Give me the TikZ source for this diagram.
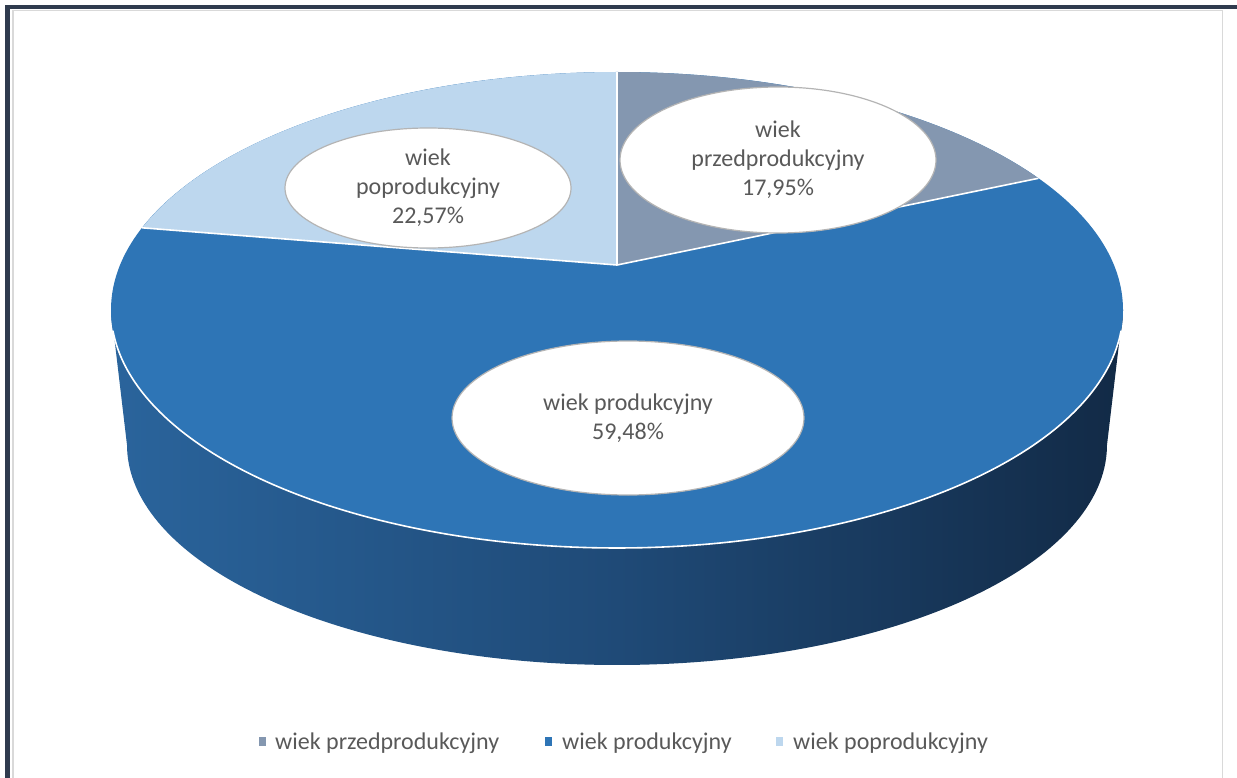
\documentclass[tikz,border=0pt]{standalone}
\usepackage{fontspec}
\setmainfont{Carlito}
\usetikzlibrary{shapes.geometric}
\definecolor{cBlue}{HTML}{2E75B6}
\definecolor{cGray}{HTML}{8497B0}
\definecolor{cLight}{HTML}{BDD7EE}
\definecolor{cText}{HTML}{595959}
\definecolor{cFrame}{HTML}{2F3B4E}
\definecolor{cBorder}{HTML}{D9D9D9}
\definecolor{lblEdge}{HTML}{B4B4B4}
\definecolor{sideL}{HTML}{2A649C}
\definecolor{sideM}{HTML}{1F4A77}
\definecolor{sideR}{HTML}{122A46}
\begin{document}
\begin{tikzpicture}[x=1pt,y=-1pt,
  lbl/.style={ellipse, fill=white, draw=lblEdge, line width=1.2pt, inner sep=0pt, text=cText, align=center, font=\fontsize{24}{29}\selectfont},
  sep/.style={draw=white, line width=1.6pt},
  leg/.style={text=cText, font=\fontsize{24}{29}\selectfont, anchor=base west, inner sep=0pt},
  legsq/.style={minimum width=7pt, minimum height=9pt, inner sep=0pt, draw=none}]
\useasboundingbox (0,0) rectangle (1237,778);
% frame
\fill[cFrame] (5,5) rectangle (1237,9.5);
\fill[cFrame] (5,5) rectangle (9.5,778);
\draw[cBorder, line width=1.5pt] (12.8,778) -- (12.8,10.3) -- (1222.5,10.3) -- (1222.5,778);
% side of the pie
\path[left color=sideL, right color=sideR, middle color=sideM]
  plot[domain=0:180,samples=150] ({617+506*cos(\x)},{310+238*sin(\x)})
  -- plot[domain=180:0,samples=150] ({617+490*cos(\x)},{445+220*sin(\x)}) -- cycle;
% top face
\fill[cBlue] (617,310) ellipse[x radius=506pt, y radius=238pt];
\coordinate (apex) at (617,265);
\coordinate (ptop) at (617,72);
\coordinate (pright) at (1038.4,178.3);
\coordinate (pleft) at (142.1,227.8);
\fill[cGray] (apex) -- plot[domain=270:326.4,samples=80] ({617+506*cos(\x)},{310+238*sin(\x)}) -- cycle;
\fill[cLight] (apex) -- plot[domain=200.2:270,samples=80] ({617+506*cos(\x)},{310+238*sin(\x)}) -- cycle;
\draw[sep] (ptop) -- (apex) -- (pright);
\draw[sep] (apex) -- (pleft);
\draw[sep] plot[domain=5:175,samples=150] ({617+506*cos(\x)},{310+238*sin(\x)});
% labels
\node[lbl, minimum width=286pt, minimum height=120pt] (lpop) at (428,188) {wiek\\poprodukcyjny\\22,57\%};
\node[lbl, minimum width=316pt, minimum height=146pt] (lprzed) at (778,160) {wiek\\przedprodukcyjny\\17,95\%};
\node[lbl, minimum width=352pt, minimum height=154pt] (lprod) at (628,418) {wiek produkcyjny\\59,48\%};
% legend
\node[legsq, fill=cGray] (sq1) at (262.5,741.5) {};
\node[leg] (t1) at (275,749) {wiek przedprodukcyjny};
\node[legsq, fill=cBlue] (sq2) at (548.5,741.5) {};
\node[leg] (t2) at (562,749) {wiek produkcyjny};
\node[legsq, fill=cLight] (sq3) at (779.5,741.5) {};
\node[leg] (t3) at (793,749) {wiek poprodukcyjny};
\end{tikzpicture}
\end{document}
